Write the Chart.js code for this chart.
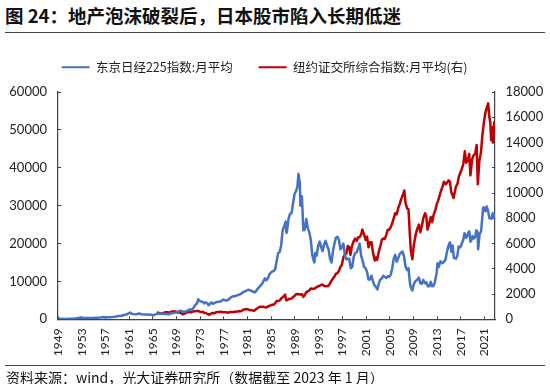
<!DOCTYPE html>
<html>
<head>
<meta charset="utf-8">
<script src="https://cdn.jsdelivr.net/npm/chart.js@4.4.1/dist/chart.umd.min.js"></script>
<style>
	body { margin: 0; width: 550px; height: 384px; background: #fff; position: relative; overflow: hidden; font-family: "Noto Sans CJK SC", sans-serif; }
	#title { position: absolute; left: 5px; top: 2px; font-size: 18.5px; font-weight: bold; color: #111; white-space: nowrap; }
	.rule { position: absolute; left: 5px; width: 540px; height: 0; border-top: 1.6px solid #444; }
	#chartBox { position: absolute; left: 0; top: 34px; width: 550px; height: 334px; }
	#source { position: absolute; left: 6px; top: 368px; font-size: 14px; line-height: 19px; color: #111; white-space: nowrap; }
</style>
</head>
<body>
<div id="title">图 24：地产泡沫破裂后，日本股市陷入长期低迷</div>
<div class="rule" style="top:32px"></div>
<div id="chartBox"><canvas id="stockChart" width="550" height="334"></canvas></div>
<div class="rule" style="top:365px"></div>
<div id="source">资料来源：wind，光大证券研究所（数据截至 2023 年 1 月）</div>
<script>
const seriesNames = ['东京日经225指数:月平均', '纽约证交所综合指数:月平均(右)'];
const tickYears = [1949, 1953, 1957, 1961, 1965, 1969, 1973, 1977, 1981, 1985, 1989, 1993, 1997, 2001, 2005, 2009, 2013, 2017, 2021];
const leftTicks = [0, 10000, 20000, 30000, 40000, 50000, 60000];
const rightTicks = [0, 2000, 4000, 6000, 8000, 10000, 12000, 14000, 16000, 18000];

// time in decimal years
const nikkeiTime = [
	1949.33, 1949.75, 1950.25, 1950.75, 1951.25, 1951.75, 1952.25, 1952.75, 1953.1, 1953.5,
	1954, 1954.5, 1955, 1955.5, 1956, 1956.5, 1957, 1957.5, 1958, 1958.5,
	1959, 1959.5, 1960, 1960.5, 1961, 1961.5, 1961.9, 1962.5, 1963, 1963.5,
	1964, 1964.5, 1965, 1965.5, 1966, 1966.5, 1967, 1967.5, 1968, 1968.5,
	1969, 1969.5, 1970, 1970.5, 1971, 1971.5, 1972, 1972.25, 1972.5, 1972.75,
	1973, 1973.25, 1973.5, 1973.75, 1974, 1974.25, 1974.5, 1974.75, 1975, 1975.25,
	1975.5, 1975.75, 1976, 1976.25, 1976.5, 1976.75, 1977, 1977.25, 1977.5, 1977.75,
	1978, 1978.25, 1978.5, 1978.75, 1979, 1979.25, 1979.5, 1979.75, 1980, 1980.25,
	1980.5, 1980.75, 1981, 1981.25, 1981.5, 1981.75, 1982, 1982.25, 1982.5, 1982.75,
	1983, 1983.25, 1983.5, 1983.75, 1984, 1984.25, 1984.5, 1984.75, 1985, 1985.25,
	1985.5, 1985.75, 1986, 1986.25, 1986.5, 1986.75, 1987, 1987.25, 1987.5, 1987.75,
	1987.9, 1988, 1988.25, 1988.5, 1988.75, 1989, 1989.25, 1989.5, 1989.75, 1989.92,
	1990.15, 1990.25, 1990.5, 1990.75, 1990.92, 1991.1, 1991.25, 1991.5, 1991.75, 1992,
	1992.25, 1992.5, 1992.6, 1992.75, 1993, 1993.25, 1993.5, 1993.75, 1994, 1994.25,
	1994.5, 1994.75, 1995, 1995.25, 1995.5, 1995.75, 1996, 1996.25, 1996.5, 1996.75,
	1997, 1997.25, 1997.5, 1997.75, 1998, 1998.25, 1998.5, 1998.75, 1999, 1999.25,
	1999.5, 1999.75, 2000, 2000.25, 2000.5, 2000.75, 2001, 2001.25, 2001.5, 2001.75,
	2002, 2002.25, 2002.5, 2002.75, 2003, 2003.25, 2003.5, 2003.75, 2004, 2004.25,
	2004.5, 2004.75, 2005, 2005.25, 2005.5, 2005.75, 2006, 2006.25, 2006.5, 2006.75,
	2007, 2007.25, 2007.5, 2007.75, 2008, 2008.25, 2008.5, 2008.75, 2008.9, 2009.15,
	2009.4, 2009.75, 2010, 2010.25, 2010.5, 2010.75, 2011, 2011.25, 2011.5, 2011.75,
	2012, 2012.25, 2012.5, 2012.75, 2012.95, 2013.25, 2013.4, 2013.6, 2013.9, 2014.25,
	2014.5, 2014.75, 2014.95, 2015.25, 2015.5, 2015.75, 2015.95, 2016.15, 2016.5, 2016.75,
	2016.95, 2017.25, 2017.5, 2017.75, 2017.95, 2018.25, 2018.5, 2018.75, 2018.95, 2019.1,
	2019.3, 2019.5, 2019.75, 2019.95, 2020.15, 2020.25, 2020.5, 2020.75, 2020.95, 2021.1,
	2021.25, 2021.5, 2021.7, 2021.95, 2022.15, 2022.3, 2022.5, 2022.7, 2022.9, 2023.0
];
const nikkeiIndex = [
	176, 150, 105, 100, 130, 165, 220, 330, 455, 350,
	345, 330, 360, 380, 440, 500, 580, 520, 520, 600,
	700, 850, 920, 1150, 1350, 1780, 1400, 1300, 1530, 1320,
	1250, 1270, 1200, 1100, 1450, 1500, 1450, 1400, 1320, 1600,
	1700, 1950, 2300, 1950, 2100, 2600, 2600, 3100, 3800, 4100,
	5300, 4800, 4700, 4600, 4200, 4500, 4300, 3700, 4100, 4450,
	4100, 4300, 4500, 4600, 4650, 4700, 4950, 5200, 5050, 4950,
	5100, 5400, 5800, 6000, 6100, 6100, 6300, 6400, 6600, 6750,
	7100, 7300, 7400, 7700, 7800, 7650, 7500, 7300, 7100, 7400,
	8000, 8400, 8900, 9300, 10000, 10800, 10300, 10800, 11800, 12300,
	12600, 12800, 13200, 15500, 17500, 17800, 19500, 23500, 24500, 25800,
	22800, 23500, 26500, 27800, 28000, 30500, 33000, 33800, 35000, 38400,
	36000, 30000, 32500, 23500, 23500, 24800, 26500, 24000, 23000, 21000,
	17000, 15500, 15000, 17500, 16800, 19500, 20500, 19000, 18000, 19800,
	20700, 19500, 18500, 16000, 15000, 18000, 20000, 21500, 21800, 21000,
	18500, 19000, 20000, 17000, 15800, 16000, 16000, 13500, 13800, 16500,
	17500, 17700, 18800, 20000, 16800, 15500, 13800, 13500, 12500, 10500,
	10500, 11500, 10000, 9000, 8500, 7900, 9500, 10500, 10800, 11500,
	11200, 10900, 11400, 11200, 11800, 13500, 16000, 17000, 15200, 16100,
	17200, 17600, 17900, 16500, 14000, 13000, 13500, 9500, 8400, 7600,
	9300, 10200, 10500, 11000, 9500, 9400, 10400, 9500, 9800, 8700,
	8700, 9900, 8700, 8900, 9800, 12300, 14800, 13800, 15300, 14800,
	15200, 15800, 17500, 19500, 20300, 17800, 19500, 16200, 16000, 16800,
	19200, 19000, 20000, 21000, 22700, 21500, 22500, 23200, 20500, 20800,
	22000, 21300, 21700, 23500, 23000, 18500, 22500, 23200, 26800, 29500,
	29500, 28500, 29800, 28500, 26700, 26800, 26500, 28000, 27800, 26500
];

const nyseTime = [
	1966, 1966.25, 1966.5, 1966.75, 1967, 1967.25, 1967.5, 1967.75, 1968, 1968.25,
	1968.5, 1968.75, 1969, 1969.25, 1969.5, 1969.75, 1970, 1970.25, 1970.4, 1970.75,
	1971, 1971.25, 1971.5, 1971.75, 1972, 1972.25, 1972.5, 1972.75, 1973, 1973.25,
	1973.5, 1973.75, 1974, 1974.25, 1974.5, 1974.75, 1975, 1975.25, 1975.5, 1975.75,
	1976, 1976.25, 1976.5, 1976.75, 1977, 1977.25, 1977.5, 1977.75, 1978, 1978.25,
	1978.5, 1978.75, 1979, 1979.25, 1979.5, 1979.75, 1980, 1980.25, 1980.5, 1980.75,
	1981, 1981.25, 1981.5, 1981.75, 1982, 1982.25, 1982.5, 1982.75, 1983, 1983.25,
	1983.5, 1983.75, 1984, 1984.25, 1984.5, 1984.75, 1985, 1985.25, 1985.5, 1985.75,
	1986, 1986.25, 1986.5, 1986.75, 1987, 1987.25, 1987.5, 1987.65, 1987.85, 1988,
	1988.25, 1988.5, 1988.75, 1989, 1989.25, 1989.5, 1989.75, 1990, 1990.25, 1990.5,
	1990.75, 1991, 1991.25, 1991.5, 1991.75, 1992, 1992.25, 1992.5, 1992.75, 1993,
	1993.25, 1993.5, 1993.75, 1994, 1994.25, 1994.5, 1994.75, 1995, 1995.25, 1995.5,
	1995.75, 1996, 1996.25, 1996.5, 1996.75, 1997, 1997.25, 1997.5, 1997.75, 1998,
	1998.25, 1998.5, 1998.7, 1998.95, 1999.25, 1999.5, 1999.75, 2000, 2000.25, 2000.5,
	2000.7, 2000.95, 2001.25, 2001.5, 2001.75, 2002, 2002.25, 2002.5, 2002.8, 2003,
	2003.2, 2003.5, 2003.75, 2004, 2004.25, 2004.5, 2004.75, 2005, 2005.25, 2005.5,
	2005.75, 2006, 2006.25, 2006.5, 2006.75, 2007, 2007.25, 2007.5, 2007.8, 2008,
	2008.25, 2008.5, 2008.75, 2008.9, 2009.15, 2009.4, 2009.75, 2010, 2010.25, 2010.5,
	2010.75, 2011, 2011.3, 2011.5, 2011.7, 2011.9, 2012.25, 2012.5, 2012.75, 2013,
	2013.25, 2013.5, 2013.75, 2014, 2014.25, 2014.5, 2014.75, 2015, 2015.25, 2015.5,
	2015.7, 2016.1, 2016.5, 2016.75, 2017, 2017.25, 2017.5, 2017.75, 2018, 2018.25,
	2018.5, 2018.75, 2018.95, 2019.25, 2019.5, 2019.75, 2020, 2020.2, 2020.45, 2020.75,
	2020.95, 2021.25, 2021.5, 2021.75, 2021.95, 2022.15, 2022.3, 2022.45, 2022.6, 2022.75,
	2022.9, 2023.0
];
const nyseIndex = [
	530, 520, 490, 450, 490, 530, 560, 560, 540, 560,
	610, 640, 620, 610, 540, 540, 510, 450, 400, 470,
	520, 580, 570, 560, 600, 630, 630, 660, 660, 600,
	580, 590, 520, 500, 440, 360, 400, 480, 500, 480,
	560, 580, 580, 590, 580, 560, 560, 550, 520, 560,
	590, 560, 580, 600, 620, 620, 660, 630, 720, 780,
	800, 810, 770, 730, 710, 690, 680, 800, 880, 960,
	1000, 1000, 990, 950, 940, 1010, 1060, 1110, 1150, 1170,
	1290, 1450, 1460, 1480, 1650, 1750, 1850, 1960, 1500, 1520,
	1600, 1620, 1640, 1750, 1850, 1980, 2000, 1990, 1970, 1990,
	1780, 1930, 2150, 2200, 2290, 2440, 2420, 2420, 2470, 2550,
	2620, 2650, 2730, 2740, 2630, 2620, 2640, 2640, 2850, 3060,
	3230, 3400, 3620, 3650, 3830, 4150, 4300, 4900, 5100, 5200,
	5800, 5700, 5100, 5800, 6200, 6400, 6200, 6500, 6500, 6700,
	7100, 6800, 6300, 6550, 5700, 6100, 6100, 5300, 4650, 4900,
	4700, 5400, 5800, 6300, 6400, 6350, 6700, 7100, 7100, 7300,
	7600, 8000, 8400, 8300, 8800, 9100, 9500, 9800, 10200, 9200,
	8800, 8700, 6500, 5400, 4750, 5900, 6800, 7200, 7500, 6900,
	7400, 8000, 8400, 8200, 7100, 7400, 8100, 7700, 8300, 8600,
	9100, 9400, 9800, 10200, 10500, 10900, 10700, 10800, 11000, 10900,
	10100, 9600, 10500, 10700, 11300, 11600, 11900, 12300, 13300, 12400,
	12600, 13100, 11400, 12700, 13000, 13100, 13800, 10700, 12500, 13300,
	14500, 15700, 16400, 16800, 17100, 16000, 15600, 14200, 15200, 14000,
	15100, 15700
];

const nikkeiData = nikkeiTime.map((t, i) => ({ x: t, y: nikkeiIndex[i] }));
const nyseData = nyseTime.map((t, i) => ({ x: t, y: nyseIndex[i] }));

const axisColor = '#404040';
const textColor = '#222';
const numFont = { family: 'Lato', size: 13 };

// more room under the legend, and legend nudged left like the original
const legendTweak = {
	id: 'legendTweak',
	beforeInit(chart) {
		const fit = chart.legend.fit;
		chart.legend.fit = function () {
			fit.bind(chart.legend)();
			this.height += 8.5;
		};
	},
	afterLayout(chart) {
		chart.legend.left -= 10.5;
		chart.legend.right -= 10.5;
	}
};

function renderChart() {
	const ctx = document.getElementById('stockChart').getContext('2d');

	new Chart(ctx, {
		type: 'line',
		data: {
			datasets: [
				{
					label: seriesNames[0],
					data: nikkeiData,
					borderColor: '#4472C4',
					backgroundColor: '#4472C4',
					borderWidth: 2.5,
					borderJoinStyle: 'round',
					pointRadius: 0,
					yAxisID: 'y',
				},
				{
					label: seriesNames[1],
					data: nyseData,
					borderColor: '#C00000',
					backgroundColor: '#C00000',
					borderWidth: 2.5,
					borderJoinStyle: 'round',
					pointRadius: 0,
					yAxisID: 'y1',
				}
			]
		},
		options: {
			responsive: false,
			animation: false,
			layout: { padding: { top: 1, left: 0, right: 0, bottom: 0 } },
			plugins: {
				tooltip: { enabled: false },
				legend: {
					position: 'top',
					labels: {
						color: textColor,
						font: { family: '"Noto Sans CJK SC"', size: 12.5 },
						boxWidth: 28,
						boxHeight: 2,
						padding: 26,
						generateLabels: chart => chart.data.datasets.map((ds, i) => ({
							text: ds.label,
							fillStyle: ds.borderColor,
							strokeStyle: ds.borderColor,
							lineWidth: 0,
							fontColor: textColor,
							datasetIndex: i,
						})),
					},
				},
			},
			scales: {
				x: {
					type: 'linear',
					min: 1949.33,
					max: 2023.1,
					afterBuildTicks: axis => {
						axis.ticks = tickYears.map(y => ({ value: y + 0.33 }));
					},
					afterCalculateLabelRotation: axis => { axis.labelRotation = 90; },
					afterFit: axis => { axis.height = 48.7; },
					ticks: {
						autoSkip: false,
						minRotation: 90,
						maxRotation: 90,
						padding: 12,
						color: textColor,
						font: { family: 'Lato', size: 12 },
						callback: v => String(Math.round(v - 0.33)),
					},
					grid: { drawOnChartArea: false, tickLength: -3, color: axisColor },
					border: { color: axisColor, width: 1.2 },
				},
				y: {
					position: 'left',
					min: 0,
					max: 60000,
					afterBuildTicks: axis => {
						axis.ticks = leftTicks.map(v => ({ value: v }));
					},
					afterFit: axis => { axis.width = 58; },
					ticks: { color: textColor, font: numFont, padding: 14, callback: v => String(v) },
					grid: { drawOnChartArea: false, tickLength: -3, color: axisColor },
					border: { color: axisColor, width: 1.2 },
				},
				y1: {
					position: 'right',
					min: 0,
					max: 18000,
					afterBuildTicks: axis => {
						axis.ticks = rightTicks.map(v => ({ value: v }));
					},
					afterFit: axis => { axis.width = 55; },
					ticks: { color: textColor, font: numFont, padding: 13.5, callback: v => String(v) },
					grid: { drawOnChartArea: false, tickLength: -3, color: axisColor },
					border: { color: axisColor, width: 1.2 },
				}
			}
		},
		plugins: [legendTweak]
	});
}

renderChart();
</script>
</body>
</html>
